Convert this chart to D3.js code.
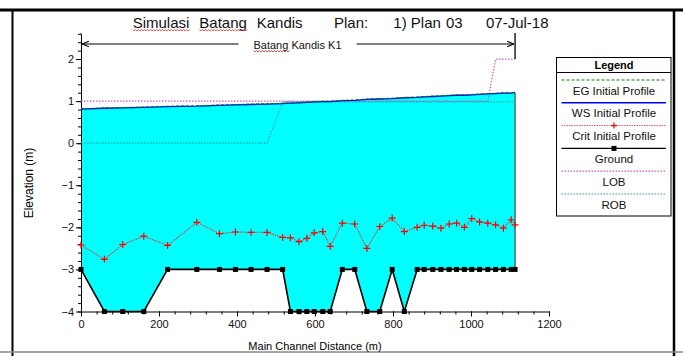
<!DOCTYPE html>
<html>
<head>
<meta charset="utf-8">
<script src="https://cdn.jsdelivr.net/npm/d3@7"></script>
<style>
  body { margin: 0; background: #fff; }
  svg { display: block; font-family: Arial, "Liberation Sans", sans-serif; }
</style>
</head>
<body>
<svg id="chart" width="683" height="356"></svg>
<script>
// river stations along the main channel (m)
const stations = [0, 60, 107, 161, 222, 297, 355, 396, 436, 477, 517, 537, 559, 579, 598, 620, 639,
  670, 702, 733, 766, 798, 829, 862, 880, 902, 923, 944, 963, 983, 1002, 1022, 1043, 1063, 1083, 1103, 1113];
const wsElev = [0.81, 0.83, 0.84, 0.85, 0.87, 0.88, 0.90, 0.91, 0.92, 0.93, 0.94, 0.95, 0.96, 0.97, 0.98, 0.99, 0.99,
  1.01, 1.02, 1.04, 1.05, 1.06, 1.08, 1.09, 1.10, 1.11, 1.12, 1.13, 1.14, 1.14, 1.15, 1.16, 1.17, 1.18, 1.19, 1.19, 1.20];
const egElev = [0.82, 0.84, 0.85, 0.86, 0.88, 0.89, 0.91, 0.92, 0.93, 0.94, 0.95, 0.96, 0.97, 0.98, 0.99, 1.00, 1.00,
  1.02, 1.03, 1.05, 1.06, 1.07, 1.09, 1.10, 1.11, 1.12, 1.13, 1.14, 1.15, 1.15, 1.16, 1.17, 1.18, 1.19, 1.20, 1.20, 1.21];
const critElev = [-2.42, -2.76, -2.41, -2.21, -2.43, -1.88, -2.15, -2.11, -2.12, -2.12, -2.24, -2.25, -2.34, -2.26, -2.13, -2.10, -2.45,
  -1.90, -1.92, -2.50, -1.98, -1.78, -2.10, -2.00, -1.95, -1.97, -2.02, -1.92, -1.90, -2.00, -1.79, -1.87, -1.90, -1.94, -2.02, -1.82, -1.94];
const groundElev = [-3, -4, -4, -4, -3, -3, -3, -3, -3, -3, -3, -4, -4, -4, -4, -4, -4,
  -3, -3, -4, -4, -3, -4, -3, -3, -3, -3, -3, -3, -3, -3, -3, -3, -3, -3, -3, -3];
const lobElev = [1, 1, 1, 1, 1, 1, 1, 1, 1, 1, 1, 1, 1, 1, 1, 1, 1,
  1, 1, 1, 1, 1, 1, 1, 1, 1, 1, 1, 1, 1, 1, 1, 1, 2, 2, 2, 2];
const robElev = [0, 0, 0, 0, 0, 0, 0, 0, 0, 0, 0.98, 0.98, 0.98, 0.98, 0.98, 0.98, 0.98,
  0.98, 0.98, 0.98, 0.98, 0.98, 0.98, 0.98, 0.98, 0.98, 0.98, 0.98, 0.98, 0.98, 0.98, 0.98, 0.98, 0.98, 0.98, 0.98, 0.98];

const xTickLabels = [0, 200, 400, 600, 800, 1000, 1200];
const yTickLabels = [-4, -3, -2, -1, 0, 1, 2];
const titleWords = ["Simulasi", "Batang", "Kandis", "Plan:", "1) Plan", "03", "07-Jul-18"];
const reachName = "Batang Kandis K1";
const legendNames = ["EG Initial Profile", "WS Initial Profile", "Crit Initial Profile", "Ground", "LOB", "ROB"];

const rows = stations.map((s, i) => ({
  s, ws: wsElev[i], eg: egElev[i], crit: critElev[i], ground: groundElev[i], lob: lobElev[i], rob: robElev[i]
}));

const svg = d3.select("#chart");

const x = d3.scaleLinear().domain([0, 1200]).range([81, 549]);
const y = d3.scaleLinear().domain([-4, 2.6]).range([311.5, 33.8]);

// outer frame
svg.append("line").attr("x1", 0).attr("x2", 683).attr("y1", 10).attr("y2", 10)
  .attr("stroke", "#000").attr("stroke-width", 3);
svg.append("line").attr("x1", 12.5).attr("x2", 12.5).attr("y1", 10).attr("y2", 356)
  .attr("stroke", "#000").attr("stroke-width", 2);
svg.append("line").attr("x1", 674).attr("x2", 674).attr("y1", 10).attr("y2", 356)
  .attr("stroke", "#000").attr("stroke-width", 2.5);
svg.append("line").attr("x1", 0).attr("x2", 683).attr("y1", 352).attr("y2", 352)
  .attr("stroke", "#888").attr("stroke-width", 1.5);

// water between ground and WS
svg.append("path").datum(rows)
  .attr("fill", "#00ffff")
  .attr("d", d3.area().x(d => x(d.s)).y0(d => y(d.ground)).y1(d => y(d.ws)));

const last = rows[rows.length - 1];
svg.append("line")
  .attr("x1", x(last.s)).attr("x2", x(last.s))
  .attr("y1", y(last.ws)).attr("y2", y(last.ground))
  .attr("stroke", "#4f6f6f").attr("stroke-width", 1.5);

// axes
svg.append("g").attr("transform", `translate(0,${y(-4)})`)
  .call(d3.axisBottom(x).tickValues(d3.range(0, 1201, 40)).tickSize(3).tickSizeOuter(0).tickFormat(""));
const xMajor = svg.append("g").attr("transform", `translate(0,${y(-4)})`)
  .call(d3.axisBottom(x).tickValues(xTickLabels).tickSize(5).tickSizeOuter(0).tickPadding(4).tickFormat(d3.format("d")));
xMajor.select(".domain").remove();

svg.append("g").attr("transform", `translate(${x(0)},0)`)
  .call(d3.axisLeft(y).tickValues(d3.range(-20, 14).map(v => v / 5)).tickSize(3).tickSizeOuter(0).tickFormat(""));
const yMajor = svg.append("g").attr("transform", `translate(${x(0)},0)`)
  .call(d3.axisLeft(y).tickValues(yTickLabels).tickSize(5).tickSizeOuter(0).tickPadding(2).tickFormat(d3.format("d")));
yMajor.select(".domain").remove();

svg.selectAll(".tick text").attr("font-size", 11).attr("fill", "#111")
  .attr("font-family", "Arial, 'Liberation Sans', sans-serif");
svg.selectAll(".tick line, .domain").attr("stroke", "#000");

svg.append("text").attr("x", x(600)).attr("y", 350)
  .attr("text-anchor", "middle").attr("font-size", 11).text("Main Channel Distance (m)");
svg.append("text").attr("transform", "translate(33,183) rotate(-90)")
  .attr("text-anchor", "middle").attr("font-size", 12).text("Elevation (m)");

// bank lines
const line = key => d3.line().x(d => x(d.s)).y(d => y(d[key]));
svg.append("path").datum(rows).attr("fill", "none").attr("stroke", "#cc55cc")
  .attr("stroke-width", 1.2).attr("stroke-dasharray", "1.5,1.5").attr("d", line("lob"));
svg.append("path").datum(rows).attr("fill", "none").attr("stroke", "#1f9f9f")
  .attr("stroke-width", 1.2).attr("stroke-dasharray", "1.5,1.5").attr("d", line("rob"));

// WS and EG
svg.append("path").datum(rows).attr("fill", "none").attr("stroke", "#0000ff")
  .attr("stroke-width", 1.3).attr("d", line("ws"));
svg.append("path").datum(rows).attr("fill", "none").attr("stroke", "#008000")
  .attr("stroke-width", 1).attr("stroke-dasharray", "3,2").attr("d", line("eg"));

// critical depth
svg.append("path").datum(rows).attr("fill", "none").attr("stroke", "#d04848")
  .attr("stroke-width", 1.2).attr("stroke-dasharray", "1.5,1").attr("d", line("crit"));
svg.append("g").selectAll("path").data(rows).join("path")
  .attr("transform", d => `translate(${x(d.s)},${y(d.crit)})`)
  .attr("d", "M-3.5,0H3.5M0,-3.5V3.5")
  .attr("stroke", "#ff0000").attr("stroke-width", 1.2);

// ground
svg.append("path").datum(rows).attr("fill", "none").attr("stroke", "#000")
  .attr("stroke-width", 1.6).attr("d", line("ground"));
svg.append("g").selectAll("rect").data(rows).join("rect")
  .attr("x", d => x(d.s) - 2.5).attr("y", d => y(d.ground) - 2.5)
  .attr("width", 5).attr("height", 5).attr("fill", "#000");

// squiggly spell-check underline
function squiggle(x0, x1, yy) {
  let p = `M${x0},${yy}`;
  for (let xx = x0, k = 0; xx < x1; xx += 1.5, k++) p += `L${xx + 1.5},${yy + (k % 2 ? 0 : 1.5)}`;
  svg.append("path").attr("d", p).attr("fill", "none").attr("stroke", "#e02020").attr("stroke-width", 0.8);
}

// title
const titleX = [132.7, 199.3, 256.7, 334, 393.3, 446, 486];
titleWords.forEach((w, i) => {
  const t = svg.append("text").attr("x", titleX[i]).attr("y", 27.5)
    .attr("font-size", 15).attr("fill", "#111").text(w);
  if (i < 2) {
    const b = t.node().getBBox();
    squiggle(b.x, b.x + b.width, 29.5);
  }
});

// reach bracket
const rx0 = x(stations[0]), rx1 = x(last.s), ry = 44;
const rLabel = svg.append("text").attr("x", (rx0 + rx1) / 2 - 0.5).attr("y", 48.5)
  .attr("text-anchor", "middle").attr("font-size", 11).attr("fill", "#111").text(reachName);
const rb = rLabel.node().getBBox();
const tmp = svg.append("text").attr("font-size", 11).text(reachName.split(" ")[0]);
const w1 = tmp.node().getComputedTextLength();
tmp.remove();
squiggle(rb.x, rb.x + w1, 50.5);

const defs = svg.append("defs");
defs.append("marker").attr("id", "arr").attr("viewBox", "0 0 10 10").attr("refX", 10).attr("refY", 5)
  .attr("markerWidth", 7).attr("markerHeight", 7).attr("orient", "auto-start-reverse")
  .append("path").attr("d", "M0,1L10,5L0,9").attr("fill", "none").attr("stroke", "#000").attr("stroke-width", 1.5);
svg.append("line").attr("x1", rx0 + 1).attr("x2", rb.x - 15).attr("y1", ry).attr("y2", ry)
  .attr("stroke", "#000").attr("marker-start", "url(#arr)");
svg.append("line").attr("x1", rb.x + rb.width + 15).attr("x2", rx1 - 1).attr("y1", ry).attr("y2", ry)
  .attr("stroke", "#000").attr("marker-end", "url(#arr)");
svg.append("line").attr("x1", rx0).attr("x2", rx0).attr("y1", 33).attr("y2", y(2.6))
  .attr("stroke", "#000");
svg.append("line").attr("x1", rx1).attr("x2", rx1).attr("y1", 33).attr("y2", y(last.lob))
  .attr("stroke", "#000").attr("stroke-width", 1.3);

// legend
const lg = svg.append("g");
lg.append("rect").attr("x", 556.5).attr("y", 57.5).attr("width", 114.5).attr("height", 158.5)
  .attr("fill", "#fff").attr("stroke", "#000");
lg.append("line").attr("x1", 556.5).attr("x2", 671).attr("y1", 72.5).attr("y2", 72.5).attr("stroke", "#000");
lg.append("text").attr("x", 614).attr("y", 69).attr("text-anchor", "middle")
  .attr("font-size", 11).attr("font-weight", "bold").text("Legend");
const legendStyles = [
  { stroke: "#008000", dash: "3,2", w: 1 },
  { stroke: "#0000ff", dash: null, w: 1.5 },
  { stroke: "#e05050", dash: "1.5,1", w: 1, mark: "plus" },
  { stroke: "#000", dash: null, w: 1.3, mark: "square" },
  { stroke: "#cc55cc", dash: "1.5,1.5", w: 1.2 },
  { stroke: "#1f9f9f", dash: "1.5,1.5", w: 1.2 }
];
legendNames.forEach((name, i) => {
  const ly = 80 + i * 22.8;
  const st = legendStyles[i];
  lg.append("line").attr("x1", 561.5).attr("x2", 666).attr("y1", ly).attr("y2", ly)
    .attr("stroke", st.stroke).attr("stroke-width", st.w).attr("stroke-dasharray", st.dash);
  if (st.mark === "plus") {
    lg.append("path").attr("d", `M${614 - 3},${ly}H${614 + 3}M614,${ly - 3}V${ly + 3}`)
      .attr("stroke", "#ff0000").attr("stroke-width", 1.2);
  }
  if (st.mark === "square") {
    lg.append("rect").attr("x", 614 - 2.5).attr("y", ly - 2.5).attr("width", 5).attr("height", 5).attr("fill", "#000");
  }
  lg.append("text").attr("x", 614).attr("y", ly + 14.5).attr("text-anchor", "middle")
    .attr("font-size", 11.5).attr("fill", "#111").text(name);
});
</script>
</body>
</html>
